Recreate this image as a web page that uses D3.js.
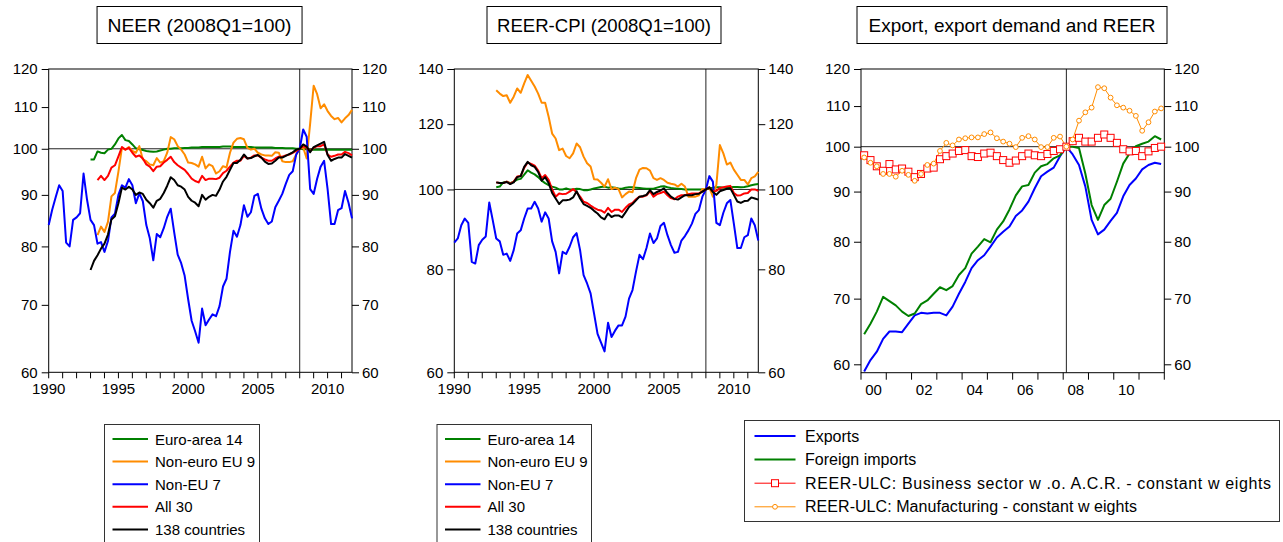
<!DOCTYPE html>
<html><head><meta charset="utf-8">
<script src="https://cdn.jsdelivr.net/npm/d3@7"></script>
<style>
body{margin:0;background:#fff}
svg{display:block;font-family:"Liberation Sans",Arial,sans-serif}
</style>
</head><body><svg id="c" width="1283" height="542"></svg>
<script>
// ---------- categories ----------
const years1990 = d3.range(1990, 2012);
const quarters1990 = years1990.flatMap(y => [1,2,3,4].map(q => y + "Q" + q));
const years2000 = d3.range(2000, 2012);
const quarters2000 = years2000.flatMap(y => [1,2,3,4].map(q => y + "Q" + q));

// ---------- tick labels ----------
const xLabels1 = ["1990","1995","2000","2005","2010"];
const xLabels3 = ["00","02","04","06","08","10"];
const yTicks1 = [60,70,80,90,100,110,120];
const yTicks2 = [60,80,100,120,140];
const yTicks3 = [60,70,80,90,100,110,120];

// ---------- titles & legends ----------
const titles = ["NEER (2008Q1=100)", "REER-CPI (2008Q1=100)", "Export, export demand and REER"];
const legendNames12 = ["Euro-area 14","Non-euro EU 9","Non-EU 7","All 30","138 countries"];
const legendNames3 = ["Exports","Foreign imports","REER-ULC: Business sector w .o. A.C.R. - constant w eights","REER-ULC: Manufacturing - constant w eights"];

// ---------- Panel 1: NEER (series start: Euro14/138 at 1993Q1, others at 1993Q3) ----------
const neerEuro14 = [97.6,97.6,99.4,99.1, 99.0,99.8,100.0,101.0, 102.4,103.2,102.0,101.8, 101.0,100.1,99.9,99.7,
  99.5,99.4,99.3,99.4, 99.6,99.8,100.0,100.0, 100.1,100.1,100.1,100.2, 100.2,100.3,100.3,100.3,
  100.4,100.4,100.4,100.4, 100.4,100.4,100.5,100.5, 100.5,100.4,100.4,100.4, 100.4,100.4,100.4,100.3,
  100.3,100.3,100.3,100.3, 100.3,100.2,100.2,100.2, 100.1,100.1,100.1,100.0, 100.0,99.9,99.9,99.8,
  99.8,99.8,99.8,99.8, 99.8,99.8,99.8,99.8, 99.8,99.8,99.8,99.8];
const neerNonEuroEU9 = [82.1,83.7, 82.7,84.6,89.7,90.4, 94.9,100.2,99.8,100.4, 99.5,99.1,100.6,97.6,
  97.2,96.5,96.3,97.9, 96.9,97.2,99.1,102.7, 102.2,100.6,99.8,98.7, 96.9,96.8,96.5,96.0,
  98.2,95.6,96.5,96.1, 94.5,95.0,96.1,95.8, 99.1,101.4,102.3,102.5, 102.2,100.2,99.8,100.0,
  99.1,98.7,98.5,98.5, 98.4,99.2,99.1,97.2, 97.0,97.0,97.2,98.7, 100.0,100.3,97.8,106.0,
  115.5,113.3,109.7,110.7, 109.0,107.8,107.0,107.3, 106.2,107.2,108.0,109.3];
const neerNonEU7 = [84.0,87.0,89.5,92.0, 90.8,80.7,80.0,85.0, 85.5,86.3,94.5,89.0, 85.0,84.0,80.5,80.8,
  79.0,81.0,85.5,86.2, 90.0,92.0,91.5,93.3, 92.0,88.3,90.3,88.7, 84.0,81.5,77.5,82.3,
  81.7,83.4,85.6,87.2, 82.6,78.5,77.0,74.8, 70.9,67.5,65.9,64.2, 69.4,66.8,67.7,68.5,
  68.2,69.8,73.0,74.3, 79.0,82.9,81.8,84.0, 87.9,85.6,86.5,89.8, 90.2,87.2,85.3,84.2,
  84.7,87.5,88.8,90.2, 92.3,94.2,95.0,98.7, 100.0,104.5,102.8,91.2, 90.2,93.4,96.0,97.3,
  91.2,84.2,84.2,86.9, 87.3,90.8,88.4,85.3];
const neerAll30 = [93.1,94.0, 93.1,94.0,95.8,96.3, 98.3,100.4,99.8,100.2, 99.1,98.2,98.5,97.8,
  96.5,96.0,95.0,96.0, 96.1,96.9,97.5,98.2, 97.0,96.3,95.8,95.3, 94.4,93.4,92.9,92.6,
  94.0,93.1,93.4,93.4, 93.3,93.6,94.6,95.1, 96.0,96.9,97.3,97.3, 98.4,97.8,98.0,98.5,
  98.5,98.0,97.6,97.3, 97.3,97.8,98.2,98.2, 98.5,98.7,99.1,99.5, 100.0,100.6,100.2,99.5,
  100.2,100.6,100.6,101.0, 98.7,98.2,98.4,98.7, 98.7,99.3,99.0,98.5];
const neer138 = [75.8,77.4,78.4,79.6, 80.5,82.2,85.1,85.7, 88.3,91.5,91.1,91.7, 91.1,90.0,90.5,90.2,
  89.0,88.3,87.4,88.8, 89.2,90.4,91.9,93.7, 93.1,92.0,91.7,91.1, 89.6,88.8,88.4,87.7,
  90.0,89.0,89.6,90.0, 89.8,91.1,92.8,93.8, 95.3,96.8,96.8,97.5, 98.7,97.8,97.9,98.3,
  98.6,98.0,97.1,96.6, 96.7,97.3,98.0,98.0, 98.4,98.8,99.2,99.8, 100.0,101.0,100.5,99.2,
  100.4,100.8,101.2,101.6, 98.6,97.3,97.7,98.0, 98.0,98.8,98.4,98.0];
const neerStart = ["1993Q1","1993Q3","1990Q1","1993Q3","1993Q1"];

// ---------- Panel 2: REER-CPI (all start 1993Q1 except Non-EU 7) ----------
const reerEuro14 = [100.6,100.8,102.0,102.2, 101.8,102.2,102.8,103.0, 104.2,105.5,104.8,104.3, 103.5,102.5,101.8,101.2,
  100.8,100.5,100.0,100.0, 100.3,100.0,100.0,100.2, 100.1,99.8,99.8,100.0, 100.3,100.5,100.7,100.8,
  100.5,100.6,100.5,100.3, 100.2,100.5,100.6,100.6, 100.5,100.4,100.3,100.2, 100.2,100.2,100.5,100.8,
  100.9,100.6,100.4,100.3, 100.2,100.1,100.0,100.0, 100.0,100.0,100.0,100.0, 100.0,100.3,100.5,100.6,
  100.6,100.5,100.5,100.6, 100.7,100.7,100.6,100.7, 100.9,101.2,101.4,101.5];
const reerNonEuroEU9 = [131.9,130.7,129.8,130.1, 127.4,129.6,132.6,131.0, 134.5,137.7,135.5,133.3, 130.7,127.4,127.4,122.5,
  116.9,115.3,111.6,112.1, 109.8,109.1,110.6,113.7, 112.5,109.6,107.6,106.6, 102.9,102.8,101.9,100.8,
  102.9,100.1,100.5,100.1, 97.8,98.7,99.4,99.2, 103.2,105.7,106.2,106.1, 105.4,103.2,102.7,103.2,
  102.7,101.9,101.6,101.4, 100.8,101.6,100.8,98.0, 98.0,98.0,98.4,100.1, 100.0,100.5,98.0,101.3,
  113.2,110.6,107.2,107.8, 105.7,104.2,102.7,102.7, 101.4,103.2,103.7,105.0];
const reerNonEU7 = [86.2,87.2,90.5,92.2, 91.1,81.7,81.3,85.6, 86.9,87.7,96.4,91.8, 87.2,86.5,83.3,83.6,
  81.9,84.4,88.4,89.2, 92.2,94.8,94.8,96.6, 94.8,91.4,93.8,92.2, 86.5,84.0,79.1,84.0,
  83.5,85.2,87.5,88.5, 84.4,78.7,76.9,74.8, 70.7,66.8,65.2,63.6, 68.9,66.2,67.4,68.4,
  68.4,70.1,73.7,75.5, 79.5,83.3,82.3,84.9, 88.4,86.1,87.2,90.3, 91.1,88.0,85.6,83.8,
  84.0,86.7,87.8,89.2, 90.9,93.4,94.4,98.0, 100.0,103.8,102.2,91.1, 90.5,93.7,96.2,97.1,
  90.9,84.9,84.9,87.5, 88.0,92.2,90.5,86.7];
const reerAll30 = [102.0,101.8,101.8,102.2, 101.6,102.2,103.7,103.8, 106.2,107.8,107.4,106.9, 105.4,103.2,104.1,102.7,
  100.0,98.0,98.9,98.7, 98.8,99.4,100.1,99.2, 98.0,96.6,96.3,95.6, 95.0,94.5,94.3,93.7,
  95.0,93.9,94.5,94.5, 93.9,95.0,95.9,96.3, 97.3,98.0,98.0,98.4, 99.5,98.0,98.7,99.0,
  99.4,98.4,97.6,97.3, 98.0,98.4,98.4,98.7, 98.9,98.9,98.9,99.4, 100.0,100.6,99.4,99.6,
  100.4,100.6,100.8,101.0, 99.0,98.3,98.4,98.9, 99.0,100.0,100.0,99.6];
const reer138 = [102.0,101.8,101.8,102.1, 101.5,102.0,103.5,103.8, 106.5,108.0,107.0,106.5, 105.0,102.5,103.5,101.8,
  99.0,97.5,96.0,97.0, 97.0,97.2,97.8,99.5, 97.5,96.0,95.5,95.0, 94.2,93.5,92.5,92.0,
  93.5,92.6,93.0,93.0, 92.5,93.8,95.2,96.0, 97.0,98.0,98.2,98.5, 99.8,98.7,99.3,99.7,
  100.3,99.0,98.0,97.4, 97.2,97.8,98.4,98.4, 98.4,98.7,98.8,99.4, 100.0,100.6,99.3,98.5,
  99.5,99.8,100.2,100.3, 98.5,96.7,96.3,96.8, 96.9,97.8,97.5,97.2];
const reerStart = ["1993Q1","1993Q1","1990Q1","1993Q1","1993Q1"];

// ---------- Panel 3: exports, export demand, REER-ULC (2000Q1-2011Q4) ----------
const exportsVol = [59.0,60.6,61.8,63.7, 64.8,64.8,64.7,66.0, 67.3,67.7,67.6,67.7, 67.7,67.3,68.7,70.8,
  72.8,75.2,76.6,77.5, 79.1,80.8,81.9,82.9, 85.0,86.1,87.9,90.7, 93.3,94.3,95.2,97.8,
  100.0,98.2,95.8,91.1, 84.2,81.4,82.3,84.0, 85.6,89.0,91.4,92.8, 94.8,95.8,96.3,96.0];
const foreignImports = [64.4,66.0,67.9,70.3, 69.6,68.9,67.9,67.2, 67.6,69.1,69.7,70.8, 71.9,71.4,72.1,74.0,
  75.2,77.8,79.1,80.5, 79.9,82.3,83.9,86.3, 89.2,91.1,91.4,94.1, 95.5,96.0,97.3,98.0,
  100.0,100.0,99.7,93.9, 87.2,84.2,87.2,88.5, 92.1,96.1,98.4,100.1, 100.7,101.2,102.5,101.7];
const reerUlcBusiness = [98.0,96.9,95.5,94.5, 96.0,94.8,95.0,94.3, 93.1,93.8,95.0,95.2, 97.1,97.8,98.4,99.0,
  99.2,97.8,97.6,98.4, 98.6,97.8,96.9,96.3, 96.8,97.8,98.4,98.0, 97.8,98.3,99.0,99.4,
  100.0,101.3,102.1,101.2, 101.2,102.1,102.9,102.1, 100.9,99.4,98.9,99.0, 97.8,98.9,99.7,100.0];
const reerUlcManuf = [97.5,96.3,95.5,93.8, 93.8,93.2,94.5,93.6, 92.3,93.8,95.8,96.1, 99.0,100.9,100.3,101.7,
  102.0,102.2,102.2,103.0, 103.4,102.0,101.2,100.7, 99.9,102.1,102.5,101.7, 99.9,99.9,102.1,102.4,
  100.0,101.7,106.3,108.4, 109.6,115.0,114.7,112.2, 110.2,109.6,108.8,107.5, 103.8,105.9,108.6,109.4];

const colors12 = ["#008000","#ff8c00","#0000ff","#ff0000","#000000"];
const colors3 = ["#0000ff","#008000","#ff0000","#ff8c00"];

// ---------- drawing ----------
const svg = d3.select("#c");
const FONT = 15;

function frameAndYAxes(g, p, y, ticks) {
  g.append("rect").attr("x", p.left).attr("y", p.top).attr("width", p.right - p.left).attr("height", p.bottom - p.top)
    .attr("fill", "none").attr("stroke", "#000").attr("stroke-width", 1);
  const la = d3.axisLeft(y).tickValues(ticks).tickFormat(d3.format("d")).tickSize(7).tickPadding(4).tickSizeOuter(0);
  const ra = d3.axisRight(y).tickValues(ticks).tickFormat(d3.format("d")).tickSize(7).tickPadding(3).tickSizeOuter(0);
  [[la, p.left], [ra, p.right]].forEach(([ax, x]) => {
    const a = g.append("g").attr("transform", `translate(${x},0)`).call(ax);
    a.select(".domain").remove();
    a.selectAll("line").attr("stroke", "#000");
    a.selectAll("text").attr("font-size", FONT).attr("fill", "#000").attr("font-family", '"Liberation Sans",Arial,sans-serif');
  });
}

function refLines(g, p, y, xv) {
  g.append("line").attr("x1", p.left).attr("x2", p.right).attr("y1", y(100)).attr("y2", y(100))
    .attr("stroke", "#222").attr("stroke-width", 1);
  g.append("line").attr("x1", xv).attr("x2", xv).attr("y1", p.top).attr("y2", p.bottom)
    .attr("stroke", "#222").attr("stroke-width", 1);
}

function titleBox(cx, w, text, tl) {
  svg.append("rect").attr("x", cx - w / 2).attr("y", 6.5).attr("width", w).attr("height", 37)
    .attr("fill", "#fff").attr("stroke", "#000").attr("stroke-width", 1);
  svg.append("text").attr("x", cx).attr("y", 32).attr("text-anchor", "middle").attr("font-size", 19)
    .attr("textLength", tl).attr("lengthAdjust", "spacingAndGlyphs").text(text);
}

function panel12(p, yDomain, yTicks, series, starts, title, titleW, titleTL) {
  const g = svg.append("g");
  const x = d3.scalePoint().domain(quarters1990).range([p.left, p.right]);
  const y = d3.scaleLog().domain(yDomain).range([p.bottom, p.top]);
  refLines(g, p, y, x("2008Q1"));
  years1990.forEach(yr => {
    const xx = x(yr + "Q1");
    g.append("line").attr("x1", xx).attr("x2", xx).attr("y1", p.bottom).attr("y2", p.bottom + 6).attr("stroke", "#000");
  });
  xLabels1.forEach(l => {
    g.append("text").attr("x", x(l + "Q1")).attr("y", p.bottom + 22).attr("text-anchor", "middle")
      .attr("font-size", FONT).text(l);
  });
  frameAndYAxes(g, p, y, yTicks);
  const line = d3.line().x(d => x(d.q)).y(d => y(d.v));
  series.forEach((s, k) => {
    const i0 = quarters1990.indexOf(starts[k]);
    const pts = s.map((v, j) => ({ q: quarters1990[i0 + j], v }));
    g.append("path").attr("d", line(pts)).attr("fill", "none").attr("stroke", colors12[k])
      .attr("stroke-width", 2).attr("stroke-linejoin", "round");
  });
  titleBox((p.left + p.right) / 2 + (titleW.dx || 0), titleW.w, title, titleTL);
}

const P1 = { left: 48.7, right: 352, top: 69, bottom: 372.3 };
panel12(P1, [60, 120], yTicks1, [neerEuro14, neerNonEuroEU9, neerNonEU7, neerAll30, neer138], neerStart,
  titles[0], { w: 205, dx: -0.8 }, 184);
const P2 = { left: 454.3, right: 758.3, top: 69, bottom: 372.3 };
panel12(P2, [60, 140], yTicks2, [reerEuro14, reerNonEuroEU9, reerNonEU7, reerAll30, reer138], reerStart,
  titles[1], { w: 234, dx: -2.3 }, 214);

(function () {
  const p = { left: 861, right: 1164.3, top: 69, bottom: 372.7 };
  const g = svg.append("g");
  const xb = d3.scaleBand().domain(quarters2000).range([p.left, p.right]).padding(0);
  const bw = xb.bandwidth();
  const x = q => xb(q) + bw / 2;
  const y = d3.scaleLog().domain([58.83, 120]).range([p.bottom, p.top]);
  refLines(g, p, y, x("2008Q1"));
  years2000.concat([2012]).forEach(yr => {
    const xx = yr === 2012 ? p.right : xb(yr + "Q1");
    g.append("line").attr("x1", xx).attr("x2", xx).attr("y1", p.bottom).attr("y2", p.bottom + 7).attr("stroke", "#000");
  });
  xLabels3.forEach(l => {
    const yr = 2000 + (+l);
    g.append("text").attr("x", xb(yr + "Q1") + 2 * bw).attr("y", p.bottom + 22).attr("text-anchor", "middle")
      .attr("font-size", FONT).text(l);
  });
  frameAndYAxes(g, p, y, yTicks3);
  const line = d3.line().x((d, i) => x(quarters2000[i])).y(d => y(d));
  const sers = [exportsVol, foreignImports, reerUlcBusiness, reerUlcManuf];
  sers.forEach((s, k) => {
    g.append("path").attr("d", line(s)).attr("fill", "none").attr("stroke", colors3[k])
      .attr("stroke-width", k < 2 ? 2 : 1).attr("stroke-linejoin", "round");
  });
  g.selectAll(".sq").data(reerUlcBusiness).enter().append("rect")
    .attr("x", (d, i) => x(quarters2000[i]) - 3.5).attr("y", d => y(d) - 3.5).attr("width", 7).attr("height", 7)
    .attr("fill", "#fff").attr("stroke", colors3[2]).attr("stroke-width", 1);
  g.selectAll(".ci").data(reerUlcManuf).enter().append("circle")
    .attr("cx", (d, i) => x(quarters2000[i])).attr("cy", d => y(d)).attr("r", 2.4)
    .attr("fill", "#fff").attr("stroke", colors3[3]).attr("stroke-width", 1);
  titleBox(1012, 310, titles[2], 287);
})();

// ---------- legends ----------
function legend12(x0, w) {
  const g = svg.append("g");
  g.append("rect").attr("x", x0 + 0.5).attr("y", 424.5).attr("width", w).attr("height", 140)
    .attr("fill", "#fff").attr("stroke", "#333").attr("stroke-width", 1);
  legendNames12.forEach((n, k) => {
    const yy = 439 + k * 22.6;
    g.append("line").attr("x1", x0 + 8.5).attr("x2", x0 + 44).attr("y1", yy).attr("y2", yy)
      .attr("stroke", colors12[k]).attr("stroke-width", 2);
    g.append("text").attr("x", x0 + 51).attr("y", yy).attr("dominant-baseline", "central")
      .attr("font-size", FONT).text(n);
  });
}
legend12(104, 155);
legend12(436.5, 154.5);

(function () {
  const g = svg.append("g");
  g.append("rect").attr("x", 744.5).attr("y", 420.5).attr("width", 535).attr("height", 101)
    .attr("fill", "#fff").attr("stroke", "#333").attr("stroke-width", 1);
  const lens = [null, null, 466, 332];
  legendNames3.forEach((n, k) => {
    const yy = 436 + k * 23.6;
    g.append("line").attr("x1", 754.5).attr("x2", 795.5).attr("y1", yy).attr("y2", yy)
      .attr("stroke", colors3[k]).attr("stroke-width", k < 2 ? 2 : 1);
    if (k === 2) g.append("rect").attr("x", 771.5).attr("y", yy - 3.5).attr("width", 7).attr("height", 7)
      .attr("fill", "#fff").attr("stroke", colors3[2]);
    if (k === 3) g.append("circle").attr("cx", 775).attr("cy", yy).attr("r", 2.4)
      .attr("fill", "#fff").attr("stroke", colors3[3]);
    const t = g.append("text").attr("x", 805).attr("y", yy).attr("dominant-baseline", "central")
      .attr("font-size", 16).text(n);
    if (lens[k]) t.attr("textLength", lens[k]).attr("lengthAdjust", "spacing");
  });
})();
</script></body></html>
